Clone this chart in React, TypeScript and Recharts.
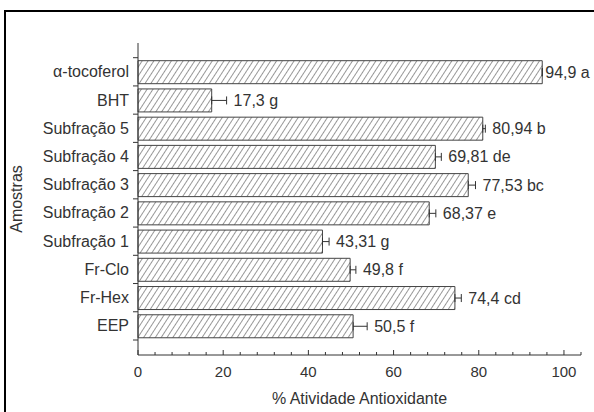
import { Bar, BarChart, ErrorBar, LabelList, XAxis, YAxis } from "recharts";

const categories = [
    "α-tocoferol",
    "BHT",
    "Subfração 5",
    "Subfração 4",
    "Subfração 3",
    "Subfração 2",
    "Subfração 1",
    "Fr-Clo",
    "Fr-Hex",
    "EEP",
];
const activity = [94.9, 17.3, 80.94, 69.81, 77.53, 68.37, 43.31, 49.8, 74.4, 50.5];
const errors = [0, 3.5, 0.6, 1.4, 1.7, 1.55, 1.55, 1.35, 1.5, 3.3];
const letters = ["a", "g", "b", "de", "bc", "e", "g", "f", "cd", "f"];
const labels = ["94,9", "17,3", "80,94", "69,81", "77,53", "68,37", "43,31", "49,8", "74,4", "50,5"];
const majorTicks = [0, 20, 40, 60, 80, 100];
const allTicks = [0, 4, 8, 12, 16, 20, 24, 28, 32, 36, 40, 44, 48, 52, 56, 60, 64, 68, 72, 76, 80, 84, 88, 92, 96, 100, 104];

const data = categories.map((name, i) => ({
    name,
    value: activity[i],
    err: [0, errors[i]],
    label: `${labels[i]} ${letters[i]}`,
}));

const FONT = '"Liberation Sans", Arial, sans-serif';
const INK = "#333";

// category labels at band centre, tick marks on the band boundaries
const CategoryTick = (props: any) => {
    const { x, y, payload, index } = props;
    const half = payload?.offset ? payload.offset : 14.1;
    const axisX = x + 9;
    return (
        <g>
            <text x={x} y={y} dy={5.5} textAnchor="end" fill={INK} fontSize={16} fontFamily={FONT}>
                {payload.value}
            </text>
            <line x1={axisX - 5} x2={axisX} y1={y - half} y2={y - half} stroke={INK} />
            {index === categories.length - 1 && (
                <line x1={axisX - 5} x2={axisX} y1={y + half} y2={y + half} stroke={INK} />
            )}
        </g>
    );
};

const ValueTick = (props: any) => {
    const { x, y, payload } = props;
    const major = majorTicks.includes(payload.value);
    return (
        <g>
            <line x1={x} x2={x} y1={y} y2={y - (major ? 5 : 3)} stroke={INK} />
            {major && (
                <text x={x} y={y} dy={22} textAnchor="middle" fill={INK} fontSize={15} fontFamily={FONT}>
                    {payload.value}
                </text>
            )}
        </g>
    );
};

const ValueLabel = (props: any) => {
    const { x, y, width, height, value, index } = props;
    const v = activity[index] ?? 1;
    const e = errors[index] ?? 0;
    const end = x + width + (e * width) / v;
    return (
        <text
            x={end + (e > 0 ? 7 : 3)}
            y={y + height / 2}
            dy={5.5}
            fill={INK}
            fontSize={16}
            fontFamily={FONT}
        >
            {value}
        </text>
    );
};

const XTitle = (props: any) => {
    const vb = props.viewBox || {};
    return (
        <text x={vb.x + vb.width / 2} y={vb.y + 49} textAnchor="middle" fill={INK} fontSize={16} fontFamily={FONT}>
            % Atividade Antioxidante
        </text>
    );
};

const YTitle = (props: any) => {
    const vb = props.viewBox || {};
    const cx = 22;
    const cy = vb.y + vb.height / 2;
    return (
        <text x={cx} y={cy} textAnchor="middle" transform={`rotate(-90 ${cx} ${cy})`} fill={INK} fontSize={16} fontFamily={FONT}>
            Amostras
        </text>
    );
};

export default function App() {
    return (
        <div style={{ position: "fixed", left: 0, top: 0, width: 594, height: 412, overflow: "hidden", background: "#fff" }}>
            {/* outer frame, runs off the right and bottom edge like the scan */}
            <div style={{ position: "absolute", left: 4, top: 10, width: 620, height: 440, border: "2px solid #000" }} />
            <div style={{ position: "absolute", left: 0, top: 0 }}>
                <BarChart
                    width={594}
                    height={412}
                    layout="vertical"
                    data={data}
                    margin={{ top: 43, right: 13, bottom: 0, left: 0 }}
                    barSize={23}
                >
                    <defs>
                        <pattern id="hatch" patternUnits="userSpaceOnUse" width={4.9} height={4.9} patternTransform="rotate(33)">
                            <rect width={4.9} height={4.9} fill="#fff" />
                            <line x1={0} y1={0} x2={0} y2={4.9} stroke="#444" strokeWidth={1.1} />
                        </pattern>
                    </defs>
                    <XAxis
                        type="number"
                        domain={[0, 104]}
                        ticks={allTicks}
                        interval={0}
                        height={57}
                        tickLine={false}
                        tickSize={0}
                        tickMargin={0}
                        tick={<ValueTick />}
                        axisLine={{ stroke: INK }}
                        label={<XTitle />}
                    />
                    <YAxis
                        type="category"
                        dataKey="name"
                        width={138}
                        padding={{ top: 14.7, bottom: 15 }}
                        interval={0}
                        tickLine={false}
                        tickSize={0}
                        tickMargin={9}
                        tick={<CategoryTick />}
                        axisLine={{ stroke: INK }}
                        label={<YTitle />}
                    />
                    <Bar dataKey="value" fill="url(#hatch)" stroke="#444" strokeWidth={1} isAnimationActive={false}>
                        <ErrorBar dataKey="err" direction="x" width={4} stroke={INK} strokeWidth={1} isAnimationActive={false} />
                        <LabelList dataKey="label" content={<ValueLabel />} />
                    </Bar>
                </BarChart>
            </div>
        </div>
    );
}
